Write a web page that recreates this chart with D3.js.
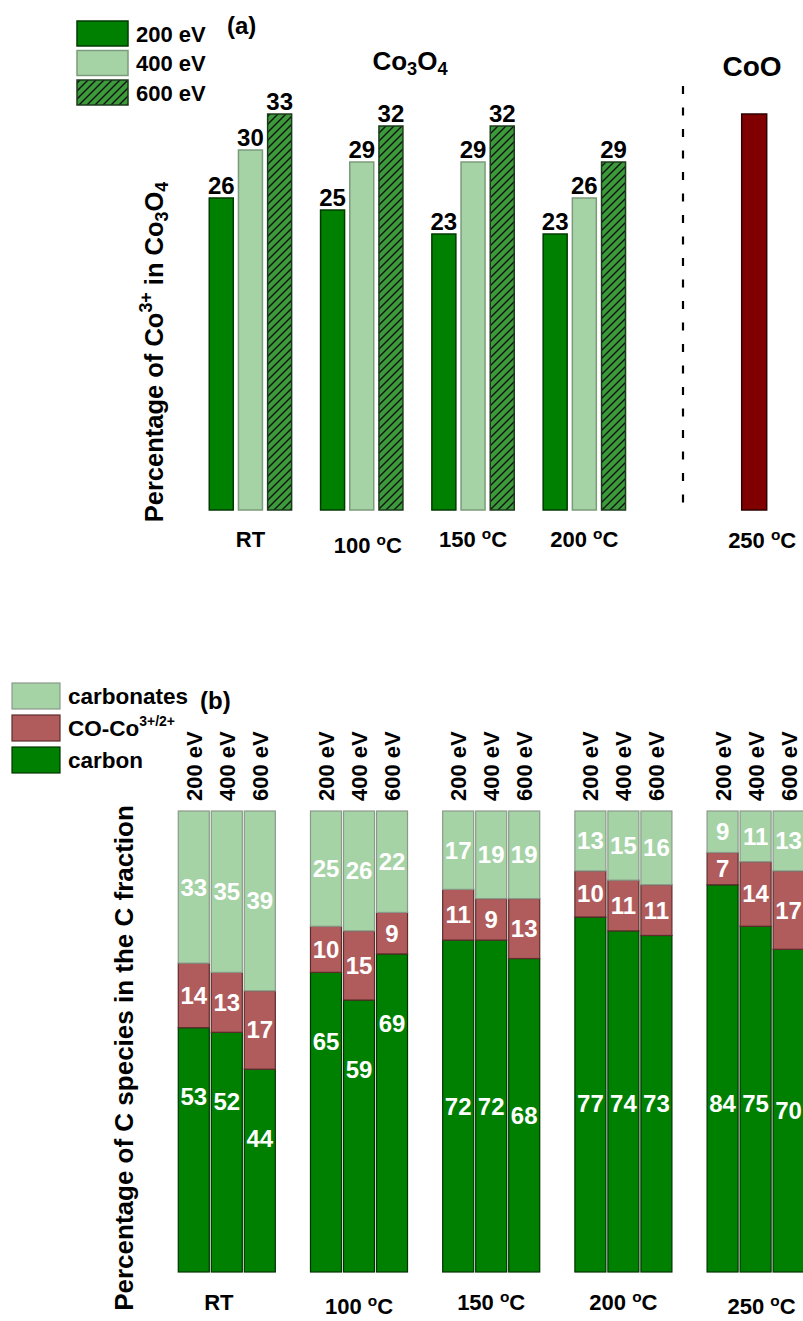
<!DOCTYPE html>
<html>
<head>
<meta charset="utf-8">
<script src="https://cdn.jsdelivr.net/npm/d3@7"></script>
<style>
  html, body { margin: 0; padding: 0; background: #fff; }
  svg { display: block; font-family: "Liberation Sans", Arial, sans-serif; font-weight: bold; }
</style>
</head>
<body>
<svg id="fig" width="803" height="1321"></svg>
<script>
// ---- panel (a): Co3+ share in Co3O4 ----
const tempsA = ["RT", "100 °C", "150 °C", "200 °C"];
const energies = ["200 eV", "400 eV", "600 eV"];
const co3Share200 = [26, 25, 23, 23];
const co3Share400 = [30, 29, 29, 26];
const co3Share600 = [33, 32, 32, 29];
const cooTemp = ["250 °C"];
const cooValue = [33];

// ---- panel (b): C species in the C fraction ----
const tempsB = ["RT", "100 °C", "150 °C", "200 °C", "250 °C"];
const speciesNames = ["carbon", "CO-Co", "carbonates"];
const carbonPct = [[53, 52, 44], [65, 59, 69], [72, 72, 68], [77, 74, 73], [84, 75, 70]];
const coCoPct = [[14, 13, 17], [10, 15, 9], [11, 9, 13], [10, 11, 11], [7, 14, 17]];
const carbonatePct = [[33, 35, 39], [25, 26, 22], [17, 19, 19], [13, 15, 16], [9, 11, 13]];

const svg = d3.select("#fig");
const defs = svg.append("defs");

// diagonal hatch for the 600 eV bars
const hatch = defs.append("pattern")
  .attr("id", "hatch600")
  .attr("patternUnits", "userSpaceOnUse")
  .attr("width", 8).attr("height", 8);
hatch.append("rect").attr("width", 8).attr("height", 8).attr("fill", "#3b9b3b");
hatch.append("path")
  .attr("d", "M-2,2 L2,-2 M0,8 L8,0 M6,10 L10,6")
  .attr("stroke", "#111").attr("stroke-width", 1.4);

const styleA = {
  "200 eV": { fill: "#008000", stroke: "#003a00" },
  "400 eV": { fill: "#a6d3a6", stroke: "#7c9a7c" },
  "600 eV": { fill: "url(#hatch600)", stroke: "#1c3a1c" }
};

// ================= panel (a) =================
const gA = svg.append("g");
const xA = d3.scaleBand().domain(tempsA).range([194.8, 640]).paddingInner(0.26).paddingOuter(0.13);
const xAin = d3.scaleBand().domain(energies).range([0, xA.bandwidth()]).paddingInner(0.178);
const yA = d3.scaleLinear().domain([0, 35]).range([510, 90]);

const rowsA = [];
tempsA.forEach((t, i) => {
  [co3Share200, co3Share400, co3Share600].forEach((arr, j) => {
    rowsA.push({ temp: t, energy: energies[j], value: arr[i] });
  });
});

gA.selectAll("rect.barA").data(rowsA).join("rect")
  .attr("class", "barA")
  .attr("x", d => xA(d.temp) + xAin(d.energy))
  .attr("y", d => yA(d.value))
  .attr("width", xAin.bandwidth())
  .attr("height", d => yA(0) - yA(d.value))
  .attr("fill", d => styleA[d.energy].fill)
  .attr("stroke", d => styleA[d.energy].stroke)
  .attr("stroke-width", 1.5);

gA.selectAll("text.valA").data(rowsA).join("text")
  .attr("class", "valA")
  .attr("x", d => xA(d.temp) + xAin(d.energy) + xAin.bandwidth() / 2)
  .attr("y", d => yA(d.value) - 4)
  .attr("text-anchor", "middle")
  .attr("font-size", 24)
  .attr("fill", "#000")
  .text(d => d.value);

// CoO bar
const xCoO = d3.scaleBand().domain(cooTemp).range([741.7, 766.7]);
gA.selectAll("rect.coo").data(cooTemp).join("rect")
  .attr("class", "coo")
  .attr("x", d => xCoO(d))
  .attr("y", (d, i) => yA(cooValue[i]))
  .attr("width", xCoO.bandwidth())
  .attr("height", (d, i) => yA(0) - yA(cooValue[i]))
  .attr("fill", "#800000")
  .attr("stroke", "#2e0000")
  .attr("stroke-width", 1.5);

// dashed divider between Co3O4 and CoO
gA.append("line")
  .attr("x1", 683).attr("x2", 683)
  .attr("y1", 86).attr("y2", 506)
  .attr("stroke", "#000").attr("stroke-width", 2.2)
  .attr("stroke-dasharray", "8,13.5");

// category labels with superscript degree mark
function tempLabel(sel, label) {
  if (label === "RT") { sel.text("RT"); return; }
  const num = label.replace(" °C", "");
  sel.append("tspan").text(num + " ");
  sel.append("tspan").attr("font-size", "0.7em").attr("dy", "-0.55em").text("o");
  sel.append("tspan").attr("dy", "0.385em").text("C");
}

tempsA.forEach((t, i) => {
  const lbl = gA.append("text")
    .attr("x", xA(t) + xA.bandwidth() / 2 + (i === 1 ? 6 : 0))
    .attr("y", i === 1 ? 553 : 547)
    .attr("text-anchor", "middle")
    .attr("font-size", 22);
  tempLabel(lbl, t);
});
cooTemp.forEach(t => {
  const lbl = gA.append("text")
    .attr("x", xCoO(t) + xCoO.bandwidth() / 2 + 8)
    .attr("y", 548)
    .attr("text-anchor", "middle")
    .attr("font-size", 22);
  tempLabel(lbl, t);
});

// panel titles
const tCo3 = gA.append("text").attr("x", 410).attr("y", 70).attr("text-anchor", "middle").attr("font-size", 26);
tCo3.append("tspan").text("Co");
tCo3.append("tspan").attr("font-size", "0.7em").attr("dy", "0.3em").text("3");
tCo3.append("tspan").attr("dy", "-0.21em").text("O");
tCo3.append("tspan").attr("font-size", "0.7em").attr("dy", "0.3em").text("4");

gA.append("text").attr("x", 752).attr("y", 76).attr("text-anchor", "middle").attr("font-size", 28).text("CoO");
gA.append("text").attr("x", 227).attr("y", 34).attr("font-size", 24).text("(a)");

// y title
const yTitleA = gA.append("text")
  .attr("transform", "translate(163,352) rotate(-90)")
  .attr("text-anchor", "middle")
  .attr("font-size", 25.5);
yTitleA.append("tspan").text("Percentage of Co");
yTitleA.append("tspan").attr("font-size", "0.7em").attr("dy", "-0.6em").text("3+");
yTitleA.append("tspan").attr("dy", "0.42em").text(" in Co");
yTitleA.append("tspan").attr("font-size", "0.7em").attr("dy", "0.3em").text("3");
yTitleA.append("tspan").attr("dy", "-0.21em").text("O");
yTitleA.append("tspan").attr("font-size", "0.7em").attr("dy", "0.3em").text("4");

// legend (a)
const legA = gA.append("g");
energies.forEach((e, i) => {
  legA.append("rect")
    .attr("x", 77).attr("y", 21 + i * 29.5)
    .attr("width", 51).attr("height", 25)
    .attr("fill", styleA[e].fill)
    .attr("stroke", styleA[e].stroke).attr("stroke-width", 1.5);
  legA.append("text")
    .attr("x", 136).attr("y", 41.5 + i * 29.5)
    .attr("font-size", 22)
    .text(e);
});

// ================= panel (b) =================
const gB = svg.append("g");
const xB = d3.scaleBand().domain(tempsB).range([160.7, 821.7]).paddingInner(0.266).paddingOuter(0.133);
const xBin = d3.scaleBand().domain(energies).range([0, xB.bandwidth()]).paddingInner(0.0606);
const yB = d3.scaleLinear().domain([0, 100]).range([1272, 811]);

const styleB = {
  "carbon": { fill: "#008000", stroke: "#003200" },
  "CO-Co": { fill: "#b05c5c", stroke: "#5e2c2c" },
  "carbonates": { fill: "#a6d3a6", stroke: "#8a9a8a" }
};

const rowsB = [];
tempsB.forEach((t, i) => {
  energies.forEach((e, j) => {
    rowsB.push({ temp: t, gi: i, energy: e, carbon: carbonPct[i][j], "CO-Co": coCoPct[i][j], carbonates: carbonatePct[i][j] });
  });
});

const stacked = d3.stack().keys(speciesNames)(rowsB);

const layers = gB.selectAll("g.layer").data(stacked).join("g").attr("class", "layer");
layers.selectAll("rect").data(layer => layer.map(seg => ({ seg, key: layer.key }))).join("rect")
  .attr("x", d => xB(d.seg.data.temp) + xBin(d.seg.data.energy))
  .attr("y", d => yB(d.seg[1]))
  .attr("width", xBin.bandwidth())
  .attr("height", d => yB(d.seg[0]) - yB(d.seg[1]))
  .attr("fill", d => styleB[d.key].fill)
  .attr("stroke", d => styleB[d.key].stroke)
  .attr("stroke-width", 1.2);

// white value labels inside the segments
layers.selectAll("text").data(layer => layer.map(seg => ({ seg, key: layer.key }))).join("text")
  .attr("x", d => xB(d.seg.data.temp) + xBin(d.seg.data.energy) + xBin.bandwidth() / 2)
  .attr("y", d => {
    const s = d.seg;
    let mid;
    if (d.key === "carbon") {
      mid = s.data.gi < 2 ? s[1] - 15 : Math.min(s[1] / 2, 36.5);
    } else {
      mid = (s[0] + s[1]) / 2;
    }
    return yB(mid) + 8.5;
  })
  .attr("text-anchor", "middle")
  .attr("font-size", 24)
  .attr("fill", "#fff")
  .text(d => d.seg[1] - d.seg[0]);

// rotated energy labels above every column
gB.selectAll("text.eV").data(rowsB).join("text")
  .attr("class", "eV")
  .attr("transform", d => `translate(${xB(d.temp) + xBin(d.energy) + xBin.bandwidth() / 2 + 8},801) rotate(-90)`)
  .attr("font-size", 22)
  .text(d => d.energy);

// x category labels
tempsB.forEach((t, i) => {
  const lbl = gB.append("text")
    .attr("x", xB(t) + xB.bandwidth() / 2 + (i === 0 ? -8 : 0) + (i === 4 ? 6 : 0))
    .attr("y", i === 1 || i === 4 ? 1314 : 1310)
    .attr("text-anchor", "middle")
    .attr("font-size", 22);
  tempLabel(lbl, t);
});

// y title
gB.append("text")
  .attr("transform", "translate(133,1058) rotate(-90)")
  .attr("text-anchor", "middle")
  .attr("font-size", 26)
  .text("Percentage of C species in the C fraction");

gB.append("text").attr("x", 200).attr("y", 709).attr("font-size", 24).text("(b)");

// legend (b)
const legB = gB.append("g");
const legendItems = ["carbonates", "CO-Co", "carbon"];
legendItems.forEach((k, i) => {
  legB.append("rect")
    .attr("x", 12).attr("y", 683 + i * 32)
    .attr("width", 48).attr("height", 26)
    .attr("fill", styleB[k].fill)
    .attr("stroke", styleB[k].stroke).attr("stroke-width", 1.2);
  const t = legB.append("text")
    .attr("x", 68).attr("y", 704 + i * 32)
    .attr("font-size", 22.5);
  if (k === "CO-Co") {
    t.append("tspan").text("CO-Co");
    t.append("tspan").attr("font-size", "0.62em").attr("dy", "-0.75em").text("3+/2+");
  } else {
    t.text(k);
  }
});
</script>
</body>
</html>
